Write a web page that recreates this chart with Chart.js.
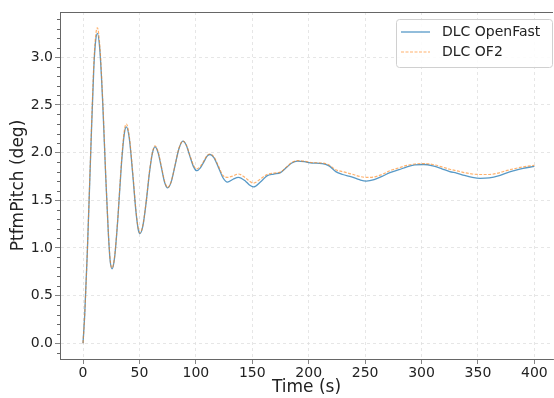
<!DOCTYPE html>
<html>
<head>
<meta charset="utf-8">
<script src="https://cdn.jsdelivr.net/npm/chart.js@4/dist/chart.umd.min.js"></script>
<style>
  html, body { margin: 0; padding: 0; background: #fff; }
  #wrap { width: 554px; height: 398px; position: relative; }
</style>
</head>
<body>
<div id="wrap"><canvas id="c" width="554" height="398"></canvas></div>
<script>
// ---- data ----
const timeS = [0, 1.5, 3.8, 6.8, 9.5, 11, 12.7, 15, 17.5, 20, 22.5, 24, 25.7, 28, 31, 34, 36.5, 38.4,
  41, 44, 47, 49, 50.5, 53, 56, 59, 61.5, 63.8, 66.5, 69.5, 72.5, 75, 78, 81.5, 85, 88.5,
  91.5, 95, 98, 100.8, 104, 107, 110, 112.6, 116, 120, 124, 128, 133, 137.7, 144, 147.5, 151,
  158, 163, 169, 175, 180, 185, 190, 196, 203, 212, 218, 224, 230, 238, 245, 251, 258, 265,
  272, 280, 287, 294, 302, 310, 318, 325, 331, 338, 345, 352, 360, 368, 375, 382, 390, 400];

const pitchOpenFast = [0, 0.3, 0.95, 1.99, 2.87, 3.15, 3.25, 3.06, 2.51, 1.78, 1.14, 0.87, 0.78, 0.90, 1.33, 1.87, 2.19, 2.27,
  2.15, 1.78, 1.37, 1.19, 1.15, 1.227, 1.483, 1.80, 1.995, 2.06, 2.00, 1.84, 1.68, 1.63, 1.687, 1.86, 2.04, 2.12,
  2.077, 1.951, 1.85, 1.81, 1.839, 1.90, 1.963, 1.98, 1.946, 1.844, 1.736, 1.69, 1.72, 1.74, 1.70, 1.66, 1.64,
  1.70, 1.755, 1.775, 1.79, 1.84, 1.89, 1.91, 1.905, 1.89, 1.885, 1.86, 1.80, 1.77, 1.745, 1.715, 1.70, 1.715, 1.75,
  1.79, 1.82, 1.85, 1.87, 1.875, 1.86, 1.83, 1.80, 1.785, 1.76, 1.74, 1.73, 1.735, 1.755, 1.785, 1.81, 1.835, 1.855];

const pitchOF2 = [0, 0.3, 0.96, 2.01, 2.91, 3.20, 3.31, 3.10, 2.54, 1.80, 1.15, 0.88, 0.79, 0.91, 1.34, 1.89, 2.22, 2.30,
  2.17, 1.80, 1.38, 1.20, 1.16, 1.235, 1.49, 1.81, 2.00, 2.07, 2.01, 1.85, 1.69, 1.635, 1.69, 1.865, 2.045, 2.12,
  2.08, 1.96, 1.865, 1.83, 1.855, 1.91, 1.97, 1.985, 1.955, 1.86, 1.76, 1.74, 1.755, 1.775, 1.735, 1.70, 1.68,
  1.73, 1.77, 1.785, 1.795, 1.845, 1.895, 1.915, 1.91, 1.895, 1.89, 1.87, 1.82, 1.80, 1.775, 1.75, 1.74, 1.745, 1.77,
  1.81, 1.84, 1.865, 1.88, 1.885, 1.875, 1.85, 1.825, 1.81, 1.79, 1.775, 1.77, 1.77, 1.785, 1.81, 1.83, 1.85, 1.865];

const seriesLabels = ['DLC OpenFast', 'DLC OF2'];
const xTickValues = [0, 50, 100, 150, 200, 250, 300, 350, 400];
const yTickValues = [0.0, 0.5, 1.0, 1.5, 2.0, 2.5, 3.0];
const yMinorTickValues = [];
for (let k = -1; k <= 34; k++) { if (k % 5 !== 0) yMinorTickValues.push(k / 10); }

const xLabel = 'Time (s)';
const yLabel = 'PtfmPitch (deg)';

// ---- chart ----
const FONT = "'DejaVu Sans', sans-serif";
const AXIS = '#666';

const toPoints = (xs, ys) => xs.map((x, i) => ({ x: x, y: ys[i] }));

const frame = {
  id: 'frame',
  afterDraw(chart) {
    const { ctx, chartArea: a } = chart;
    const ys = chart.scales.y;
    ctx.save();
    // top spine
    ctx.strokeStyle = AXIS; ctx.lineWidth = 1;
    ctx.beginPath(); ctx.moveTo(a.left, a.top + 0.5); ctx.lineTo(a.right, a.top + 0.5); ctx.stroke();
    // minor y ticks
    ctx.beginPath();
    yMinorTickValues.forEach(v => {
      const p = Math.round(ys.getPixelForValue(v)) + 0.5;
      if (p > a.top && p < a.bottom) { ctx.moveTo(a.left - 3, p); ctx.lineTo(a.left, p); }
    });
    ctx.stroke();
    // legend
    const bx = 396.5, by = 19.5, bw = 156, bh = 48, r = 3;
    ctx.fillStyle = 'rgba(255,255,255,0.85)';
    ctx.strokeStyle = '#d0d0d0';
    ctx.beginPath();
    ctx.moveTo(bx + r, by); ctx.lineTo(bx + bw - r, by); ctx.quadraticCurveTo(bx + bw, by, bx + bw, by + r);
    ctx.lineTo(bx + bw, by + bh - r); ctx.quadraticCurveTo(bx + bw, by + bh, bx + bw - r, by + bh);
    ctx.lineTo(bx + r, by + bh); ctx.quadraticCurveTo(bx, by + bh, bx, by + bh - r);
    ctx.lineTo(bx, by + r); ctx.quadraticCurveTo(bx, by, bx + r, by);
    ctx.closePath(); ctx.fill(); ctx.stroke();
    chart.data.datasets.forEach((ds, i) => {
      const yy = 32 + i * 20;
      ctx.strokeStyle = ds.borderColor; ctx.lineWidth = ds.borderWidth;
      ctx.setLineDash(ds.borderDash || []);
      ctx.beginPath(); ctx.moveTo(401, yy); ctx.lineTo(430, yy); ctx.stroke();
      ctx.setLineDash([]);
      ctx.fillStyle = '#222'; ctx.font = '14px ' + FONT; ctx.textBaseline = 'middle';
      ctx.fillText(ds.label, 442, yy);
    });
    ctx.restore();
  }
};

new Chart(document.getElementById('c'), {
  type: 'line',
  data: {
    datasets: [
      { label: seriesLabels[0], data: toPoints(timeS, pitchOpenFast), borderColor: 'rgba(31,119,180,0.75)',
        borderWidth: 1.3, pointRadius: 0, cubicInterpolationMode: 'monotone', order: 1 },
      { label: seriesLabels[1], data: toPoints(timeS, pitchOF2), borderColor: 'rgba(255,127,14,0.6)',
        borderWidth: 1.2, borderDash: [3, 1.5], pointRadius: 0, cubicInterpolationMode: 'monotone', order: 0 }
    ]
  },
  options: {
    responsive: false, animation: false, devicePixelRatio: 1,
    layout: { padding: { top: 12, right: 1, left: 0, bottom: 0 } },
    plugins: { legend: { display: false }, tooltip: { enabled: false } },
    scales: {
      x: {
        type: 'linear', min: -20.4, max: 416.5,
        afterBuildTicks: s => { s.ticks = xTickValues.map(v => ({ value: v })); },
        afterFit: s => { s.height = 39; },
        ticks: { font: { family: FONT, size: 14 }, color: '#222', padding: 1, maxRotation: 0,
                 callback: v => String(v) },
        grid: { color: '#e0e0e0', lineWidth: 0.8, tickColor: AXIS, tickLength: 5, tickBorderDash: [] },
        border: { color: AXIS, width: 1, dash: [3, 3] },
        title: { display: true, text: xLabel, font: { family: FONT, size: 17 }, color: '#222',
                 padding: { top: 0, bottom: 0 } }
      },
      y: {
        type: 'linear', min: -0.166, max: 3.475,
        afterBuildTicks: s => { s.ticks = yTickValues.map(v => ({ value: v })); },
        afterFit: s => { s.width = 60; },
        ticks: { font: { family: FONT, size: 14 }, color: '#222', padding: 2,
                 callback: v => Number(v).toFixed(1) },
        grid: { color: '#e0e0e0', lineWidth: 0.8, tickColor: AXIS, tickLength: 5, tickBorderDash: [] },
        border: { color: AXIS, width: 1, dash: [3, 3] },
        title: { display: true, text: yLabel, font: { family: FONT, size: 17 }, color: '#222',
                 padding: { top: 8, bottom: 0 } }
      }
    }
  },
  plugins: [frame]
});
</script>
</body>
</html>
